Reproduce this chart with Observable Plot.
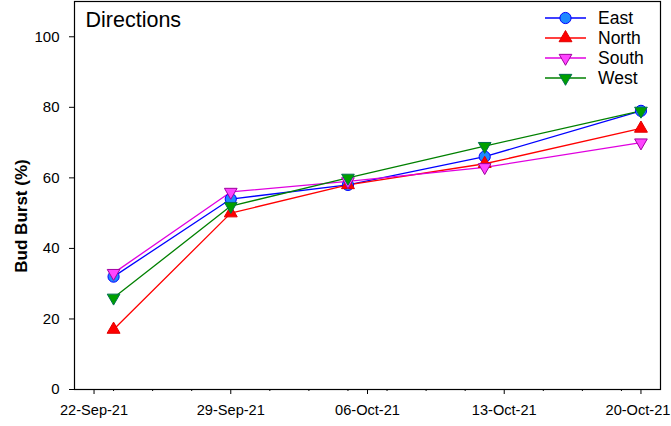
<!DOCTYPE html>
<html>
<head>
<meta charset="utf-8">
<script src="https://cdn.jsdelivr.net/npm/d3@7"></script>
<script src="https://cdn.jsdelivr.net/npm/@observablehq/plot@0.6"></script>
<style>
  body { margin: 0; background: white; }
  #wrap { position: relative; width: 671px; height: 426px; font-family: "Liberation Sans", Arial, sans-serif; }
  #legend { position: absolute; left: 545px; top: 8px; }
  .row { display: flex; align-items: center; height: 20px; }
  .row span { font-size: 17.5px; margin-left: 11px; line-height: 20px; }
  #ylabel { position: absolute; left: 22px; top: 216px; transform: translate(-50%, -50%) rotate(-90deg);
            white-space: nowrap; font-weight: bold; font-size: 17px; line-height: 20px; }
</style>
</head>
<body>
<div id="wrap"><div id="legend"></div><div id="ylabel"></div></div>
<script>
// ---- data ----
const dates = ["2021-09-23", "2021-09-29", "2021-10-05", "2021-10-12", "2021-10-20"];
const east  = [32, 54, 58, 66, 79];
const north = [17, 50, 58, 64, 74];
const south = [33, 56, 59, 63, 70];
const west  = [26, 52, 60, 69, 79];
const seriesNames = ["East", "North", "South", "West"];
const majorTicks = ["2021-09-22", "2021-09-29", "2021-10-06", "2021-10-13", "2021-10-20"];
const minorTicks = ["2021-09-23", "2021-09-25", "2021-09-27", "2021-10-01", "2021-10-03", "2021-10-05",
                    "2021-10-07", "2021-10-09", "2021-10-11", "2021-10-15", "2021-10-17", "2021-10-19"];
const yTicks = [0, 20, 40, 60, 80, 100];
const xDomain = ["2021-09-21", "2021-10-21"];
const yDomain = [0, 110];
const titleText = "Directions";
const yLabelText = "Bud Burst (%)";

// ---- styles ----
const sqrt3 = Math.sqrt(3);
const triangleDown = {
  draw(context, size) {
    const y = -Math.sqrt(size / (sqrt3 * 3));
    context.moveTo(0, -y * 2);
    context.lineTo(-sqrt3 * y, y);
    context.lineTo(sqrt3 * y, y);
    context.closePath();
  }
};
const styles = {
  East:  {line: "#0000ff", fill: "#1e88ff", stroke: "#0000ff", symbol: "circle", r: 5.6},
  North: {line: "#ff0000", fill: "#ff0000", stroke: "#e00000", symbol: "triangle", r: 4.8},
  South: {line: "#e000e0", fill: "#ff44ff", stroke: "#a000a0", symbol: triangleDown, r: 4.7},
  West:  {line: "#008000", fill: "#00a000", stroke: "#007050", symbol: triangleDown, r: 4.7}
};

const parse = d3.utcParse("%Y-%m-%d");
const fmt = d3.utcFormat("%d-%b-%y");
const valuesBy = {East: east, North: north, South: south, West: west};
const rows = seriesNames.flatMap(s => dates.map((d, i) => ({series: s, date: parse(d), value: valuesBy[s][i]})));
const majorDates = majorTicks.map(parse);

const font = '"Liberation Sans", Arial, sans-serif';

const marks = [
  Plot.frame({stroke: "black", strokeWidth: 1.2}),
  Plot.axisY({ticks: yTicks, tickSize: 5, tickPadding: 10, fontSize: 15, label: null}),
  Plot.axisX({ticks: majorDates, tickSize: 5, tickFormat: () => "", label: null}),
  Plot.axisX({ticks: minorTicks.map(parse), tickSize: 2, tickFormat: () => "", label: null}),
  Plot.text(majorDates.slice(0, -1), {x: d => d, text: d => fmt(d), frameAnchor: "bottom", dy: 15, lineAnchor: "top", fontSize: 14.6}),
  Plot.text(majorDates.slice(-1), {x: d => d, text: d => fmt(d), frameAnchor: "bottom", dy: 15, dx: -3, lineAnchor: "top", fontSize: 14.6}),
  Plot.text([titleText], {frameAnchor: "top-left", dx: 11, dy: 10, fontSize: 21.5, textAnchor: "start", lineAnchor: "top"})
];
for (const s of seriesNames) {
  const st = styles[s];
  marks.push(Plot.line(rows.filter(r => r.series === s), {x: "date", y: "value", stroke: st.line, strokeWidth: 1.3}));
}
for (const s of seriesNames) {
  const st = styles[s];
  marks.push(Plot.dot(rows.filter(r => r.series === s), {x: "date", y: "value", symbol: () => st.symbol, r: st.r, fill: st.fill, stroke: st.stroke, strokeWidth: 1}));
}

const chart = Plot.plot({
  width: 671,
  height: 426,
  marginLeft: 74,
  marginRight: 11,
  marginTop: 1,
  marginBottom: 37,
  style: {fontFamily: font, fontSize: "15px", color: "black", background: "white"},
  x: {type: "utc", domain: xDomain.map(parse)},
  y: {domain: yDomain},
  symbol: {type: "identity"},
  marks
});
const wrap = document.getElementById("wrap");
wrap.insertBefore(chart, wrap.firstChild);
document.getElementById("ylabel").textContent = yLabelText;

// ---- legend ----
const legend = document.getElementById("legend");
for (const s of seriesNames) {
  const st = styles[s];
  const row = document.createElement("div");
  row.className = "row";
  const svg = d3.create("svg").attr("width", 42).attr("height", 20);
  svg.append("line").attr("x1", 0).attr("x2", 41).attr("y1", 10).attr("y2", 10).attr("stroke", st.line).attr("stroke-width", 1.3);
  const sym = typeof st.symbol === "string" ? (st.symbol === "circle" ? d3.symbolCircle : d3.symbolTriangle) : st.symbol;
  svg.append("path").attr("transform", "translate(20.5,10)")
    .attr("d", d3.symbol(sym, Math.PI * st.r * st.r)())
    .attr("fill", st.fill).attr("stroke", st.stroke).attr("stroke-width", 1);
  row.appendChild(svg.node());
  const t = document.createElement("span");
  t.textContent = s;
  row.appendChild(t);
  legend.appendChild(row);
}
</script>
</body>
</html>
